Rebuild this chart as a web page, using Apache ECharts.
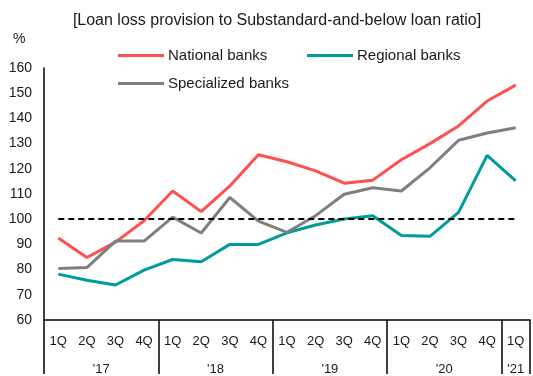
<!DOCTYPE html>
<html>
<head>
<meta charset="utf-8">
<script src="https://cdn.jsdelivr.net/npm/echarts@6/dist/echarts.min.js"></script>
<style>html,body{margin:0;padding:0;background:#fff;}#c{width:533px;height:376px;}</style>
</head>
<body>
<div id="c"></div>
<script>
var quarters = ['1Q','2Q','3Q','4Q','1Q','2Q','3Q','4Q','1Q','2Q','3Q','4Q','1Q','2Q','3Q','4Q','1Q'];
var years = ["'17","'18","'19","'20","'21"];
var yearQuarterCounts = [4,4,4,4,1];
var national = [92.5,84.8,90.9,99.4,111.2,103.0,113.2,125.6,122.8,119.2,114.3,115.5,123.6,130.0,137.0,146.9,153.2];
var regional = [78.2,75.8,73.9,79.8,84.0,83.1,90.0,90.0,94.6,97.7,100.1,101.4,93.5,93.2,102.7,125.3,115.2];
var specialized = [80.4,80.8,91.3,91.3,100.8,94.5,108.6,99.2,94.8,101.4,109.9,112.5,111.2,120.4,131.3,134.2,136.3];
var threshold = 100;
var yTicks = [60,70,80,90,100,110,120,130,140,150,160];

// half-quarter positions for year labels and group separators
var halfLabels = [];
var sepPositions = [0];
var pos = 0;
for (var i = 0; i <= quarters.length * 2; i++) halfLabels.push('');
yearQuarterCounts.forEach(function (n, k) {
  halfLabels[pos + n] = years[k];
  pos += n * 2;
  sepPositions.push(pos);
});

var font = "'Liberation Sans', Arial, sans-serif";
var txt = '#1a1a1a';
var chart = echarts.init(document.getElementById('c'), null, {renderer: 'canvas'});
chart.setOption({
  animation: false,
  backgroundColor: '#fff',
  title: {
    text: '[Loan loss provision to Substandard-and-below loan ratio]',
    left: 272, top: 8, textAlign: 'center',
    textStyle: {fontFamily: font, fontSize: 16, fontWeight: 'normal', color: txt}
  },
  graphic: [{type: 'text', left: 13, top: 32, style: {text: '%', font: '14px ' + font, fill: txt}}],
  legend: [
    {data: ['National banks'], left: 118, top: 48, padding: 0, icon: 'rect', itemWidth: 46, itemHeight: 3, itemGap: 4,
     textStyle: {fontFamily: font, fontSize: 15, color: txt, padding: [0, 0, 0, -1]}},
    {data: ['Regional banks'], left: 307, top: 48, padding: 0, icon: 'rect', itemWidth: 46, itemHeight: 3,
     textStyle: {fontFamily: font, fontSize: 15, color: txt, padding: [0, 0, 0, -1]}},
    {data: ['Specialized banks'], left: 118, top: 76, padding: 0, icon: 'rect', itemWidth: 46, itemHeight: 3,
     textStyle: {fontFamily: font, fontSize: 15, color: txt, padding: [0, 0, 0, -1]}}
  ],
  grid: {left: 44, right: 0, top: 68, bottom: 54, containLabel: false},
  xAxis: [
    {type: 'category', data: quarters, boundaryGap: true, position: 'bottom',
     axisLine: {show: true, lineStyle: {color: '#000', width: 1.5}},
     axisTick: {show: false},
     axisLabel: {interval: 0, margin: 15, fontFamily: font, fontSize: 13, color: txt}},
    {type: 'category', data: halfLabels, boundaryGap: false, position: 'bottom',
     axisLine: {show: false},
     axisTick: {show: true, length: 54, interval: function (idx) { return sepPositions.indexOf(idx) >= 0; },
                lineStyle: {color: '#000', width: 1.5}},
     axisLabel: {interval: 0, margin: 43, fontFamily: font, fontSize: 13, color: txt}}
  ],
  yAxis: {
    type: 'value', min: yTicks[0], max: yTicks[yTicks.length - 1], interval: 10,
    axisLine: {show: true, lineStyle: {color: '#000', width: 1.5}},
    axisTick: {show: false},
    splitLine: {show: false},
    axisLabel: {margin: 12, fontFamily: font, fontSize: 14, color: txt}
  },
  series: [
    {name: 'National banks', type: 'line', data: national, symbol: 'none', color: '#FF5050',
     lineStyle: {width: 3, color: '#FF5050'},
     markLine: {silent: true, symbol: 'none', label: {show: false},
       lineStyle: {type: [6, 4], color: '#000', width: 2},
       data: [[{coord: [0, threshold]}, {coord: [quarters.length - 1, threshold]}]]}},
    {name: 'Regional banks', type: 'line', data: regional, symbol: 'none', color: '#009B9B',
     lineStyle: {width: 3, color: '#009B9B'}},
    {name: 'Specialized banks', type: 'line', data: specialized, symbol: 'none', color: '#7F7F7F',
     lineStyle: {width: 3, color: '#7F7F7F'}}
  ]
});
</script>
</body>
</html>
